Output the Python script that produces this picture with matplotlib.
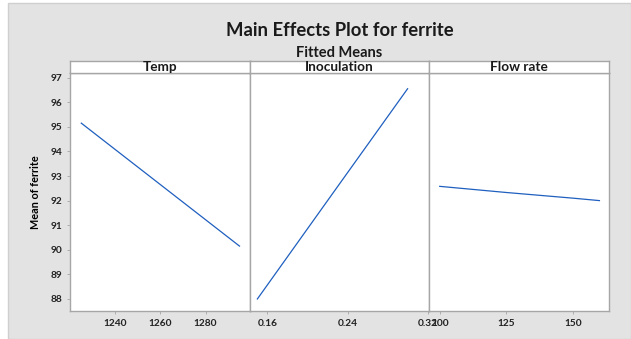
import matplotlib.pyplot as plt
from matplotlib.patches import Rectangle

# Fitted means
temp_levels = [1225, 1260, 1295]
temp_means = [95.15, 92.65, 90.15]

inoc_levels = [0.15, 0.225, 0.30]
inoc_means = [88.0, 92.28, 96.55]

flow_levels = [100, 125, 150, 160]
flow_means = [92.58, 92.33, 92.10, 92.0]

panel_names = ["Temp", "Inoculation", "Flow rate"]
temp_ticks = [1240, 1260, 1280]
inoc_ticks = [0.16, 0.24, 0.32]
flow_ticks = [100, 125, 150]
y_ticks = [88, 89, 90, 91, 92, 93, 94, 95, 96, 97]

plt.rcParams['font.family'] = ['Lato', 'DejaVu Sans']

W, H = 631, 339
fig = plt.figure(figsize=(W / 100, H / 100), dpi=100)
fig.patch.set_facecolor('white')

# grey background panel like Minitab (kept behind the axes)
fig.patches.append(Rectangle((8 / W, 0), 1 - 8 / W, 1 - 3 / H, transform=fig.transFigure,
                             facecolor='#e3e3e3', edgecolor='#cfcfcf', lw=1, zorder=-10))

left, right = 70 / W, 609 / W
bottom, top = 1 - 311 / H, 1 - 73 / H
strip_h = 12 / H
pw = (right - left) / 3

series = [
    (temp_levels, temp_means, temp_ticks, (1220, 1299.5), ["1240", "1260", "1280"]),
    (inoc_levels, inoc_means, inoc_ticks, (0.1423, 0.3217), ["0.16", "0.24", "0.32"]),
    (flow_levels, flow_means, flow_ticks, (96.1, 163.6), ["100", "125", "150"]),
]

edge = '#a6a6a6'
for i, (xs, ys, ticks, xlim, labels) in enumerate(series):
    ax = fig.add_axes([left + i * pw, bottom, pw, top - bottom])
    ax.set_facecolor('white')
    ax.plot(xs, ys, color='#1f5fbf', lw=0.9)
    ax.set_xlim(xlim)
    ax.set_ylim(87.51, 97.19)
    ax.set_xticks(ticks)
    ax.set_xticklabels(labels, fontsize=7.3, fontweight='bold', color='#222222')
    ax.tick_params(axis='x', length=2.5, width=0.6, color=edge, pad=3)
    if i == 0:
        ax.set_yticks(y_ticks)
        ax.set_yticklabels([str(v) for v in y_ticks], fontsize=7.3, fontweight='bold', color='#222222')
        ax.tick_params(axis='y', length=2.5, width=0.6, color=edge, pad=3)
        ax.set_ylabel("Mean of ferrite", fontsize=7.8, fontweight='bold', labelpad=7)
    else:
        ax.set_yticks([])
    for s in ax.spines.values():
        s.set_color(edge)
        s.set_linewidth(1.0)

    # strip with panel name
    strip = fig.add_axes([left + i * pw, top, pw, strip_h])
    strip.set_facecolor('white')
    strip.set_xticks([])
    strip.set_yticks([])
    for s in strip.spines.values():
        s.set_color(edge)
        s.set_linewidth(1.0)
    strip.text(0.5, 0.5, panel_names[i], ha='center', va='center', fontsize=9.8, fontweight='bold',
               color='#1a1a1a', transform=strip.transAxes)

fig.text((left + right) / 2, 1 - 31 / H, "Main Effects Plot for ferrite", ha='center', va='center',
         fontsize=13.3, fontweight='bold', color='#1a1a1a')
fig.text((left + right) / 2, 1 - 53 / H, "Fitted Means", ha='center', va='center',
         fontsize=10.5, fontweight='bold', color='#1a1a1a')

plt.savefig('out.png', dpi=100)
